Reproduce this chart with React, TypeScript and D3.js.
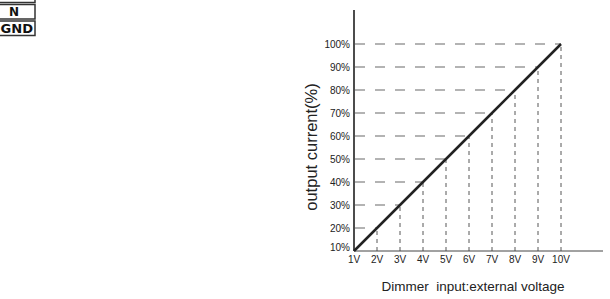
import * as d3 from 'd3';

const voltageLabels = ['1V', '2V', '3V', '4V', '5V', '6V', '7V', '8V', '9V', '10V'];
const voltages = [1, 2, 3, 4, 5, 6, 7, 8, 9, 10];
const currentPct = [10, 20, 30, 40, 50, 60, 70, 80, 90, 100];
const currentTicks = [10, 20, 30, 40, 50, 60, 70, 80, 90, 100];
const terminalLabels = ['', 'N', 'GND'];

const W = 610;
const H = 299;
const font = '"Liberation Sans", Arial, sans-serif';

export default function App() {
  const x = d3.scaleLinear().domain([1, 10]).range([354, 561]);
  const y = d3.scaleLinear().domain([10, 100]).range([251, 44]);

  const pts: [number, number][] = voltages.map((v, i) => [x(v), y(currentPct[i])]);
  const line = d3.line<[number, number]>()(pts) || '';

  return (
    <svg
      width={W}
      height={H}
      style={{ position: 'absolute', left: 0, top: 0, background: '#fff' }}
    >
      {/* terminal boxes cut off at top-left */}
      {terminalLabels.map((t, i) => {
        const top = -12 + i * 16.5;
        return (
          <g key={i}>
            <rect x={-10} y={top} width={45} height={14.5} fill="#fff" stroke="#333" strokeWidth={1.5} />
            {t && (
              <text
                x={t === 'GND' ? 0.5 : 14}
                y={top + 11.8}
                textAnchor={t === 'GND' ? 'start' : 'middle'}
                fontFamily='"DejaVu Sans", sans-serif'
                fontWeight={900}
                fontSize={12}
                fill="#111"
                textLength={t === 'GND' ? 32.5 : undefined}
                lengthAdjust="spacingAndGlyphs"
              >
                {t}
              </text>
            )}
          </g>
        );
      })}

      {/* horizontal guides from y axis to line */}
      {pts.slice(1).map(([px, py], i) => (
        <line
          key={'h' + i}
          x1={x(1) + 1}
          x2={px}
          y1={py}
          y2={py}
          stroke="#9a9a9a"
          strokeWidth={1.5}
          strokeDasharray="10,10"
        />
      ))}

      {/* vertical guides from x axis to line */}
      {pts.slice(1).map(([px, py], i) => (
        <line
          key={'v' + i}
          x1={px}
          x2={px}
          y1={y(10)}
          y2={py}
          stroke="#444"
          strokeWidth={0.9}
          strokeDasharray="4,4"
        />
      ))}

      {/* axes */}
      <line x1={x(1)} x2={x(1)} y1={10} y2={y(10)} stroke="#111" strokeWidth={1.5} />
      <line x1={x(1)} x2={603} y1={y(10)} y2={y(10)} stroke="#444" strokeWidth={1} />

      {/* response line */}
      <path d={line} fill="none" stroke="#222" strokeWidth={2.5} />

      {/* y tick labels */}
      {currentTicks.map((c) => (
        <text
          key={'yt' + c}
          x={350}
          y={c === 10 ? y(c) - 0.5 : y(c) + 3.5}
          textAnchor="end"
          fontFamily={font}
          fontSize={10}
          fill="#222"
        >
          {c}%
        </text>
      ))}

      {/* x tick labels */}
      {voltages.map((v, i) => (
        <text
          key={'xt' + v}
          x={x(v)}
          y={263}
          textAnchor="middle"
          fontFamily={font}
          fontSize={10}
          fill="#222"
        >
          {voltageLabels[i]}
        </text>
      ))}

      {/* axis titles */}
      <text
        x={473}
        y={291}
        textAnchor="middle"
        fontFamily={font}
        fontSize={13.5}
        fill="#222"
        style={{ whiteSpace: 'pre' }}
      >
        {'Dimmer  input:external voltage'}
      </text>
      <text
        transform="translate(317,147) rotate(-90)"
        textAnchor="middle"
        fontFamily={font}
        fontSize={16.5}
        fill="#222"
      >
        output current(%)
      </text>
    </svg>
  );
}
